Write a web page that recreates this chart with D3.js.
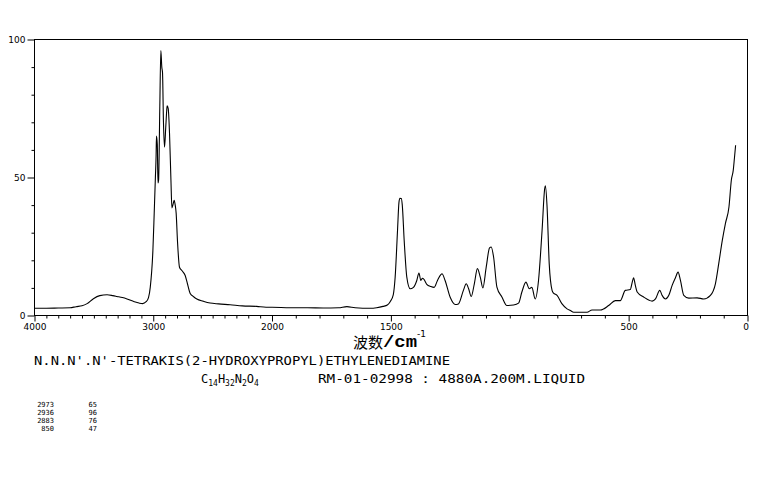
<!DOCTYPE html>
<html>
<head>
<meta charset="utf-8">
<script src="https://cdn.jsdelivr.net/npm/d3@7"></script>
<style>
  html, body { margin: 0; padding: 0; background: #fff; }
  svg { display: block; }
</style>
</head>
<body>
<svg id="chart" width="761" height="477"></svg>
<script>
// ---- data ----
const wavenumbers = [
  4000, 3900, 3800, 3700, 3650, 3600, 3557, 3504, 3450, 3389, 3340, 3305, 3260, 3221, 3160, 3120, 3090, 3060, 3040, 3025,
  3003, 2992, 2982, 2976, 2973, 2966, 2960, 2955, 2945, 2936, 2928, 2922, 2914, 2905, 2895, 2887, 2883, 2874, 2863, 2851,
  2843, 2835, 2824, 2815, 2807, 2796, 2779, 2759, 2731, 2712, 2689, 2660, 2633, 2580, 2521, 2450, 2353, 2250, 2129, 2050,
  2000, 1924, 1850, 1785, 1720, 1685, 1650, 1587, 1560, 1533, 1515, 1503, 1490, 1482, 1472, 1466, 1462, 1456, 1452, 1444,
  1433, 1419, 1405, 1391, 1382, 1374, 1367, 1360, 1349, 1332, 1318, 1304, 1290, 1285, 1272, 1251, 1229, 1216, 1195, 1183,
  1173, 1162, 1149, 1136, 1124, 1113, 1099, 1085, 1078, 1068, 1054, 1033, 1012, 984, 963, 949, 932, 918, 907, 893,
  879, 864, 853, 850, 843, 834, 822, 816, 801, 780, 759, 745, 731, 703, 675, 654, 619, 584, 556, 535,
  514, 493, 485, 479, 472, 464, 437, 401, 387, 369, 359, 345, 331, 317, 303, 292, 282, 268, 247, 212,
  184, 156, 135, 121, 106, 93, 78, 68, 60, 55, 50
];
const intensities = [
  2.6, 2.6, 2.7, 2.8, 3.2, 3.5, 4.3, 6.1, 7.2, 7.5, 7.2, 6.9, 6.5, 6.0, 5.0, 4.5, 4.3, 5.0, 6.5, 10.3,
  23.6, 37, 50, 58, 65, 62, 48, 49, 75, 96, 90, 88, 70, 61, 68, 74, 76, 75, 66, 49,
  39, 40, 41.7, 40, 37, 27, 17.5, 16.3, 14.5, 11.5, 8, 6.8, 6, 5.2, 4.5, 4.2, 3.9, 3.5, 3.3, 3.0,
  3.0, 2.8, 2.8, 2.7, 2.8, 3.2, 2.8, 2.6, 2.8, 3.3, 3.8, 5.0, 7.5, 13.9, 30.9, 41, 42.5, 42.4, 40, 27.2,
  13.9, 9.7, 10.2, 12.7, 15.4, 12.7, 13.5, 13, 11.3, 10.5, 10.2, 12.7, 14.8, 15.1, 12.7, 6.7, 4.0, 4.2, 9.1, 11.5,
  9.7, 6.9, 11.5, 17, 13.9, 10, 17.5, 24.5, 24.8, 21.2, 10.3, 6.7, 3.6, 3.8, 4.5, 8.5, 12.1, 9.7, 10.2, 6.0,
  12.7, 30.9, 46, 47, 39.3, 18.8, 9.1, 8.1, 7.3, 4.2, 2.4, 1.8, 1.2, 1.2, 1.2, 2.0, 2.0, 3.6, 5.4, 5.4,
  9.1, 9.4, 12, 13.7, 11, 8.5, 6.7, 5.2, 6.0, 9.1, 7.3, 6.0, 7.3, 10.9, 13.7, 15.7, 12.7, 7.3, 6.3, 6.4,
  6.0, 7.3, 11.5, 18.8, 27.2, 33.3, 39.3, 49, 52.6, 57, 61.7
];
const xTickLabels = [4000, 3000, 2000, 1500, 500, 0];
const yTickLabels = [0, 50, 100];
const xAxisTitleCJK = "波数";
const xAxisTitleUnit = "/cm";
const xAxisTitleSup = "-1";
const compoundName = "N.N.N'.N'-TETRAKIS(2-HYDROXYPROPYL)ETHYLENEDIAMINE";
const formulaParts = [["C", false], ["14", true], ["H", false], ["32", true], ["N", false], ["2", true], ["O", false], ["4", true]];
const sampleInfo = "RM-01-02998 : 4880A.200M.LIQUID";
const peakWavenumbers = [2973, 2936, 2883, 850];
const peakIntensities = [65, 96, 76, 47];

// ---- drawing ----
const svg = d3.select("#chart");
svg.append("rect").attr("width", 761).attr("height", 477).attr("fill", "#fff");

const L = 34.5, R = 747.5, T = 39.5, B = 315.5;
const x = d3.scaleLinear().domain([4000, 2000, 0]).range([L, 272, R]);
const y = d3.scaleLinear().domain([0, 100]).range([B, T]);

// frame
svg.append("rect").attr("x", L).attr("y", T).attr("width", R - L).attr("height", B - T)
  .attr("fill", "none").attr("stroke", "#000").attr("stroke-width", 1);

// x axis
const xAxis = d3.axisBottom(x)
  .tickValues(d3.range(0, 4001, 100))
  .tickSize(3)
  .tickSizeOuter(0)
  .tickFormat(d => xTickLabels.includes(d) ? String(d) : "");
const gx = svg.append("g").attr("transform", `translate(0,${B})`).call(xAxis);
gx.select(".domain").remove();
gx.selectAll(".tick line").attr("stroke", "#000")
  .attr("y2", d => xTickLabels.includes(d) ? 6 : 3);
gx.selectAll(".tick text")
  .attr("y", 8).attr("dy", "0.71em")
  .attr("font-family", "DejaVu Sans, sans-serif").attr("font-size", 9).attr("fill", "#000")
  .attr("text-anchor", d => d === 0 ? "end" : "middle")
  .attr("dx", d => d === 0 ? 1 : 0);

// y axis
const yAxis = d3.axisLeft(y)
  .tickValues(d3.range(0, 101, 10))
  .tickSize(3)
  .tickSizeOuter(0)
  .tickFormat(d => yTickLabels.includes(d) ? String(d) : "");
const gy = svg.append("g").attr("transform", `translate(${L},0)`).call(yAxis);
gy.select(".domain").remove();
gy.selectAll(".tick line").attr("stroke", "#000")
  .attr("x2", d => yTickLabels.includes(d) ? -7 : -3);
gy.selectAll(".tick text")
  .attr("x", -9)
  .attr("font-family", "DejaVu Sans, sans-serif").attr("font-size", 9).attr("fill", "#000");

// spectrum
const data = wavenumbers.map((w, i) => ({ w, v: intensities[i] }));
const line = d3.line().x(d => x(d.w)).y(d => y(d.v)).curve(d3.curveMonotoneX);
svg.append("path").datum(data).attr("d", line)
  .attr("fill", "none").attr("stroke", "#000").attr("stroke-width", 1.1);

// axis title
svg.append("text").attr("x", 353).attr("y", 348)
  .attr("font-family", "Noto Sans CJK SC, sans-serif").attr("font-size", 15).attr("fill", "#000")
  .text(xAxisTitleCJK);
svg.append("text").attr("x", 383).attr("y", 347)
  .attr("font-family", "Liberation Mono, monospace").attr("font-weight", "bold")
  .attr("font-size", 17).attr("fill", "#000")
  .attr("textLength", 34).attr("lengthAdjust", "spacingAndGlyphs")
  .text(xAxisTitleUnit);
svg.append("text").attr("x", 417).attr("y", 337)
  .attr("font-family", "DejaVu Sans, sans-serif").attr("font-size", 9).attr("fill", "#000")
  .text(xAxisTitleSup);

// compound name
svg.append("text").attr("x", 34).attr("y", 365)
  .attr("font-family", "DejaVu Sans Mono, monospace").attr("font-size", 12).attr("fill", "#000")
  .attr("textLength", 416).attr("lengthAdjust", "spacingAndGlyphs")
  .text(compoundName);

// formula
const ft = svg.append("text").attr("x", 201).attr("y", 383)
  .attr("font-family", "DejaVu Sans Mono, monospace").attr("fill", "#000");
formulaParts.forEach(([s, sub]) => {
  ft.append("tspan").attr("font-size", sub ? 8 : 12)
    .attr("dy", sub ? 3 : -3)
    .text(s);
});
ft.select("tspan").attr("dy", 0);

svg.append("text").attr("x", 318).attr("y", 383)
  .attr("font-family", "DejaVu Sans Mono, monospace").attr("font-size", 12).attr("fill", "#000")
  .attr("textLength", 267).attr("lengthAdjust", "spacingAndGlyphs")
  .text(sampleInfo);

// peak table
peakWavenumbers.forEach((w, i) => {
  const yy = 407 + i * 8;
  svg.append("text").attr("x", 54).attr("y", yy).attr("text-anchor", "end")
    .attr("font-family", "DejaVu Sans Mono, monospace").attr("font-size", 7).attr("fill", "#000")
    .text(w);
  svg.append("text").attr("x", 97).attr("y", yy).attr("text-anchor", "end")
    .attr("font-family", "DejaVu Sans Mono, monospace").attr("font-size", 7).attr("fill", "#000")
    .text(peakIntensities[i]);
});
</script>
</body>
</html>
